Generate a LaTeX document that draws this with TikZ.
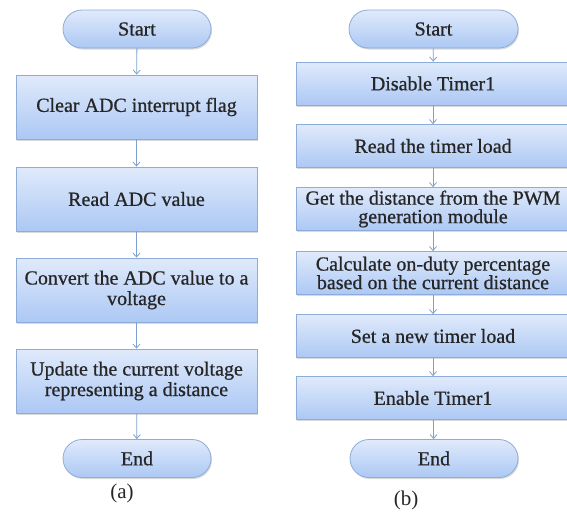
\documentclass[tikz,border=0pt]{standalone}
\usepackage{fontspec}
\setmainfont{Liberation Serif}
\newfontfamily\boxfont{Liberation Serif}[FakeBold=0.7]
\usetikzlibrary{arrows.meta,shapes.misc,shadows}

\definecolor{boxtop}{RGB}{224,234,251}
\definecolor{boxbot}{RGB}{172,200,244}
\definecolor{boxline}{RGB}{141,172,216}
\definecolor{flowline}{RGB}{126,160,208}
\definecolor{boxtext}{RGB}{38,38,38}

\begin{document}
\begin{tikzpicture}[x=1pt,y=-1pt,
        every node/.style={text=boxtext,font=\boxfont\fontsize{20}{20}\selectfont},
        proc/.style={rectangle,draw=boxline,line width=0.8pt,top color=boxtop,
            bottom color=boxbot,inner sep=0pt,align=center,
            drop shadow={shadow xshift=1pt,shadow yshift=-1.5pt,opacity=0.3,fill=black!50}},
        term/.style={proc,rounded rectangle,minimum height=38pt},
        lbox/.style={proc,minimum width=241pt,minimum height=64pt,
            font=\boxfont\fontsize{20}{20.5}\selectfont},
        rbox/.style={proc,minimum width=274pt,minimum height=43pt,
            font=\boxfont\fontsize{20}{18.5}\selectfont},
        flow/.style={draw=flowline,line width=0.8pt,-{Straight Barb[length=4pt,width=7pt]}}]
        \useasboundingbox (0,0) rectangle (567,514);
        \clip (0,0) rectangle (567,514);

        % ADC interrupt handler
        \node[term,minimum width=148pt] (startA) at (137,29) {Start};
        \node[lbox] (clrflag) at (136.5,107) {Clear ADC interrupt flag};
        \node[lbox] (readadc) at (136.5,199) {Read ADC value};
        \node[lbox] (convert) at (136.5,290) {Convert the ADC value to a\\voltage};
        \node[lbox] (update) at (136.5,381) {Update the current voltage\\representing a distance};
        \node[term,minimum width=148pt] (endA) at (137,458.5) {End};
        \node[font=\fontsize{21}{21}\selectfont] (capA) at (122,493) {(a)};

        \draw[flow] (startA) -- (clrflag);
        \draw[flow] (clrflag) -- (readadc);
        \draw[flow] (readadc) -- (convert);
        \draw[flow] (convert) -- (update);
        \draw[flow] (update) -- (endA);

        % Timer1 interrupt handler
        \node[term,minimum width=169pt] (startB) at (433.5,29) {Start};
        \node[rbox] (disable) at (433,83.5) {Disable Timer1};
        \node[rbox] (readload) at (433,146) {Read the timer load};
        \node[rbox] (getdist) at (433,209) {Get the distance from the PWM\\generation module};
        \node[rbox] (duty) at (433,273) {Calculate on-duty percentage\\based on the current distance};
        \node[rbox] (setload) at (433,336) {Set a new timer load};
        \node[rbox] (enable) at (433,398) {Enable Timer1};
        \node[term,minimum width=168pt] (endB) at (434,458.5) {End};
        \node[font=\fontsize{21}{21}\selectfont] (capB) at (406,500) {(b)};

        \draw[flow] (startB) -- (disable);
        \draw[flow] (disable) -- (readload);
        \draw[flow] (readload) -- (getdist);
        \draw[flow] (getdist) -- (duty);
        \draw[flow] (duty) -- (setload);
        \draw[flow] (setload) -- (enable);
        \draw[flow] (enable) -- (endB);
    \end{tikzpicture}
\end{document}
